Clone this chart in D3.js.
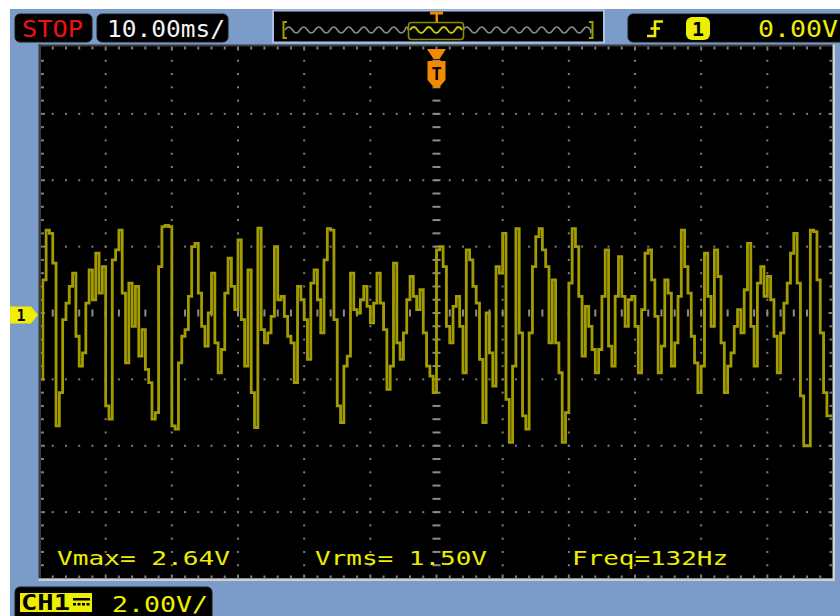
<!DOCTYPE html>
<html>
<head>
<meta charset="utf-8">
<script src="https://cdn.jsdelivr.net/npm/d3@7"></script>
<style>
  html, body { margin: 0; padding: 0; background: #fff; }
  svg { display: block; }
  text { font-family: "DejaVu Sans Mono", "Liberation Mono", monospace; }
</style>
</head>
<body>
<svg id="scope" width="840" height="616"></svg>
<script>
// Acquisition settings
const timePerDivMs = 10;
const voltsPerDiv = 2;
const horizontalDivs = 12;
const verticalDivs = 8;
const sampleStartMs = -60;
const sampleStepMs = 0.5;

// Channel 1 record (volts), one value per 0.5 ms sample
const ch1Volts = [
  -2.0, 1.0, 2.5, 2.4, 1.5, -3.4, -2.4, -0.2, 0.3, 0.8,
  1.2, -0.7, -1.6, -1.2, 0.3, 1.3, 0.4, 1.8, 0.6, 1.4,
  -2.8, -3.2, 1.6, 1.9, 2.5, 0.6, -1.5, 0.9, -0.4, 0.8,
  -1.3, -0.5, -1.7, -2.1, -3.2, -3.0, 1.4, 2.6, 2.64, 2.6,
  -3.4, -3.5,
  -1.5, -0.7, -0.5, 0.5, 2.0, 2.1, 0.6, -0.4, -1.0, 0.0,
  1.2, -0.9, -1.8, -1.1, 0.6, 1.65, 0.8, 0.1, 2.2, -0.2,
  -1.6, 1.3, -2.4, -3.45, 2.56, -0.5, -0.9, -0.6, -0.1, 2.0,
  0.4, 0.5, -0.1, -0.7, -0.9, -2.1, 0.8, 0.4, -0.2, -1.4,
  0.9, 1.3, 0.4, -0.6, 1.6, 2.54,
  2.5, -0.2, -2.8, -3.3, -1.6, -1.3, 1.2, 0.1, 0.0, 0.4,
  0.8, 0.2, -0.3, 0.3, 1.2, 0.3, -0.5, -2.3, -1.6, 1.5,
  -0.9, -1.4, -0.6, 0.4, 1.1, 0.5, 0.1, 0.7, -0.6, -1.6,
  -1.9, -2.4, 1.9, 2.0, 1.4, -0.4, -0.9, 0.2, 0.5, -0.4,
  -1.8,
  1.9, 1.6, 0.8, 0.3, -1.4, -3.3, 0.0, -1.2, -2.2, 1.4,
  1.2, 2.4, -2.6, -3.9, -1.6, 2.54, -0.6, -3.1, -3.5, -0.6,
  1.4, 2.3, 2.54, 1.9, 1.4, -0.9,
  1.0, -0.9, -1.8, -3.9, -3.0, 0.9, 2.54, 2.0, 0.5, -1.3,
  0.2, -0.4, -1.1, -1.8, -1.1, 0.5, 1.9, -1.0, -1.6, 0.5,
  1.7, 0.5, -0.4, 0.4, 0.5, -0.4, -1.8, 0.1, 1.8, 1.9,
  1.0, -0.1, -1.8, -1.0, 1.0, 0.6, -1.6, -0.9, 0.5, 2.5,
  1.4, 0.6, -0.7, -1.5, -2.4, -1.6, 1.8, 0.5, -0.4, 1.9,
  1.1, -0.9, -2.4, -1.6, -1.2, -0.4, 0.1, -0.6, 0.7, 2.1,
  -0.4, -1.6, 0.9, 1.4, 0.5, 1.1, 0.4, -0.7, -1.8, -0.6,
  0.3, 0.9, 1.8, 2.4, 0.9, -2.5, -4.0, -4.0, 2.5, 2.45,
  1.0, -0.6, -2.4, -3.1
];

// Status and measurement labels
const runState = "STOP";
const timebaseLabel = "10.00ms/";
const triggerLevelLabel = "0.00V";
const triggerSourceLabel = "1";
const channelName = "CH1";
const channelScaleLabel = "2.00V/";
const measurementLabels = ["Vmax= 2.64V", "Vrms= 1.50V", "Freq=132Hz"];

// ---------------------------------------------------------------
const svg = d3.select("#scope");
const W = 840, H = 616;

const screen = { left: 39.5, right: 833.5, top: 47.5, bottom: 578.5 };
const halfT = timePerDivMs * horizontalDivs / 2;
const halfV = voltsPerDiv * verticalDivs / 2;

const x = d3.scaleLinear().domain([-halfT, halfT]).range([screen.left, screen.right]);
const y = d3.scaleLinear().domain([-halfV, halfV]).range([screen.bottom, screen.top]);

const xMinor = d3.range(-halfT, halfT + 1e-9, timePerDivMs / 5);
const xMajor = d3.range(-halfT, halfT + 1e-9, timePerDivMs);
const yMinor = d3.range(-halfV, halfV + 1e-9, voltsPerDiv / 5);
const yMajor = d3.range(-halfV, halfV + 1e-9, voltsPerDiv);

// Backdrop
svg.append("rect").attr("width", W).attr("height", H).attr("fill", "#7b9bc9");
svg.append("rect").attr("width", W).attr("height", 9).attr("fill", "#ffffff");
svg.append("rect").attr("width", 10).attr("height", H).attr("fill", "#ffffff");

// Graticule area
svg.append("rect")
  .attr("x", screen.left).attr("y", screen.top - 2.5)
  .attr("width", screen.right - screen.left).attr("height", screen.bottom - screen.top + 2.5)
  .attr("fill", "#000");

// Frame edges (dark top/left, light bottom/right)
svg.append("rect").attr("x", screen.left - 1).attr("y", screen.top - 3).attr("width", screen.right - screen.left + 1).attr("height", 2).attr("fill", "#3a3a3a");
svg.append("rect").attr("x", screen.left - 1).attr("y", screen.top - 3).attr("width", 2.5).attr("height", screen.bottom - screen.top + 3).attr("fill", "#3a3a3a");
svg.append("rect").attr("x", screen.left - 1).attr("y", screen.bottom).attr("width", screen.right - screen.left + 2).attr("height", 2.5).attr("fill", "#d0d0d0");
svg.append("rect").attr("x", screen.right - 1).attr("y", screen.top - 3).attr("width", 2.5).attr("height", screen.bottom - screen.top + 5).attr("fill", "#d0d0d0");

const grid = svg.append("g").attr("fill", "#7d7d7d");

// Ruler ticks along the edges
const isMajorX = t => Math.abs(t / timePerDivMs - Math.round(t / timePerDivMs)) < 1e-6;
const isMajorY = v => Math.abs(v / voltsPerDiv - Math.round(v / voltsPerDiv)) < 1e-6;
const innerX = xMinor.filter(t => Math.abs(t) < halfT - 1e-6);
const innerY = yMinor.filter(v => Math.abs(v) < halfV - 1e-6);

grid.selectAll(".tickTop").data(innerX).join("rect")
  .attr("x", d => x(d) - 1).attr("y", screen.top - 1)
  .attr("width", 2).attr("height", d => isMajorX(d) ? 4 : 3);
grid.selectAll(".tickBottom").data(innerX).join("rect")
  .attr("x", d => x(d) - 1).attr("y", d => screen.bottom - (isMajorX(d) ? 4 : 3))
  .attr("width", 2).attr("height", d => isMajorX(d) ? 4 : 3);
grid.selectAll(".tickLeft").data(innerY).join("rect")
  .attr("x", screen.left + 1.5).attr("y", d => y(d) - 1)
  .attr("width", d => isMajorY(d) ? 4 : 3).attr("height", 2);
grid.selectAll(".tickRight").data(innerY).join("rect")
  .attr("x", d => screen.right - 1 - (isMajorY(d) ? 4 : 3)).attr("y", d => y(d) - 1)
  .attr("width", d => isMajorY(d) ? 4 : 3).attr("height", 2);

// Dotted division lines
const vLines = xMajor.filter(t => Math.abs(t) > 1e-6 && Math.abs(t) < halfT - 1e-6);
const hLines = yMajor.filter(v => Math.abs(v) > 1e-6 && Math.abs(v) < halfV - 1e-6);
vLines.forEach(t => {
  grid.append("g").selectAll("rect").data(innerY).join("rect")
    .attr("x", x(t) - 1).attr("y", d => y(d) - 1).attr("width", 2).attr("height", 2);
});
hLines.forEach(v => {
  grid.append("g").selectAll("rect").data(innerX).join("rect")
    .attr("x", d => x(d) - 1).attr("y", y(v) - 1).attr("width", 2).attr("height", 2);
});

// Centre axes with dash ticks
grid.append("g").attr("fill", "#8c8c8c").selectAll("rect").data(innerY).join("rect")
  .attr("x", x(0) - 4).attr("y", d => y(d) - 1).attr("width", 8).attr("height", 2);
grid.append("g").attr("fill", "#8c8c8c").selectAll("rect").data(innerX).join("rect")
  .attr("x", d => x(d) - 1).attr("y", y(0) - 3.5).attr("width", 2).attr("height", 7);

// Channel 1 trace
const samples = ch1Volts.map((v, i) => ({ t: sampleStartMs + i * sampleStepMs, v }));
const trace = d3.line()
  .x(d => x(d.t)).y(d => y(d.v))
  .curve(d3.curveStepAfter);
svg.append("defs").append("clipPath").attr("id", "screenClip")
  .append("rect").attr("x", screen.left + 2).attr("y", screen.top)
  .attr("width", screen.right - screen.left - 3).attr("height", screen.bottom - screen.top);
svg.append("path")
  .datum(samples.concat([{ t: halfT, v: ch1Volts[ch1Volts.length - 1] }]))
  .attr("d", trace)
  .attr("clip-path", "url(#screenClip)")
  .attr("fill", "none")
  .attr("stroke", "#a39c00")
  .attr("stroke-width", 2.8)
  .attr("stroke-linejoin", "miter");

// Measurements
const measX = [57, 315, 572];
const measW = [173, 172, 156];
svg.append("g").selectAll("text").data(measurementLabels).join("text")
  .attr("x", (d, i) => measX[i]).attr("y", 565)
  .attr("font-size", 20)
  .attr("fill", "#eeee00")
  .attr("textLength", (d, i) => measW[i])
  .attr("lengthAdjust", "spacingAndGlyphs")
  .text(d => d);

// Trigger position marker on the screen
const orange = "#f28a00";
const tx = x(0);
svg.append("polygon")
  .attr("points", [[tx - 9.5, 49], [tx + 9.5, 49], [tx + 3, 59], [tx - 3, 59]].map(p => p.join(",")).join(" "))
  .attr("fill", orange);
svg.append("polygon")
  .attr("points", [[tx - 9, 61], [tx + 9, 61], [tx + 9, 80], [tx + 2, 88], [tx - 2, 88], [tx - 9, 80]].map(p => p.join(",")).join(" "))
  .attr("fill", orange);
svg.append("text").attr("x", tx).attr("y", 80).attr("text-anchor", "middle")
  .attr("font-size", 17).attr("font-weight", "bold").attr("fill", "#000").text("T");

// Channel ground marker
const gy = y(0) + 2;
svg.append("polygon")
  .attr("points", [[10, gy - 8.5], [31, gy - 8.5], [38, gy], [31, gy + 8.5], [10, gy + 8.5]].map(p => p.join(",")).join(" "))
  .attr("fill", "#f2ee00");
svg.append("text").attr("x", 21).attr("y", gy + 5.5).attr("text-anchor", "middle")
  .attr("font-size", 15).attr("font-weight", "bold").attr("fill", "#000").text(triggerSourceLabel);

// ---- Top status bar ----
function pill(x0, y0, w, h) {
  svg.append("rect").attr("x", x0).attr("y", y0).attr("width", w).attr("height", h)
    .attr("rx", 5).attr("fill", "#000").attr("stroke", "#1a1a1a").attr("stroke-width", 1);
}
pill(15, 14, 77, 28);
svg.append("text").attr("x", 22).attr("y", 37).attr("font-size", 23)
  .attr("fill", "#f01010").attr("textLength", 61).attr("lengthAdjust", "spacingAndGlyphs").text(runState);

pill(97, 14, 131, 28);
svg.append("text").attr("x", 107).attr("y", 37).attr("font-size", 23)
  .attr("fill", "#f4f4f4").attr("textLength", 118).attr("lengthAdjust", "spacingAndGlyphs").text(timebaseLabel);

// Record overview
svg.append("rect").attr("x", 273).attr("y", 10.5).attr("width", 331).attr("height", 32)
  .attr("fill", "#000").attr("stroke", "#a9bfe3").attr("stroke-width", 2);
function squiggle(x0, x1, yc, period, amp) {
  const half = period / 2;
  let p = `M${x0},${yc}`;
  let dir = -1;
  for (let xx = x0; xx < x1 - 0.01; xx += half) {
    const step = Math.min(half, x1 - xx);
    p += ` q${step / 2},${dir * amp * 2} ${step},0`;
    dir = -dir;
  }
  return p;
}
svg.append("path").attr("d", squiggle(285, 408, 30, 15, 3))
  .attr("fill", "none").attr("stroke", "#8c8c8c").attr("stroke-width", 1.6);
svg.append("path").attr("d", squiggle(463, 591, 30, 15, 3))
  .attr("fill", "none").attr("stroke", "#8c8c8c").attr("stroke-width", 1.6);
svg.append("rect").attr("x", 408.5).attr("y", 22.5).attr("width", 55).attr("height", 17)
  .attr("rx", 3).attr("fill", "#000").attr("stroke", "#8f8a00").attr("stroke-width", 1.6);
svg.append("path").attr("d", squiggle(410, 462, 30, 15, 3))
  .attr("fill", "none").attr("stroke", "#c6cc00").attr("stroke-width", 1.8);
svg.append("path").attr("d", "M287,22 H283.5 V38 H287").attr("fill", "none").attr("stroke", "#a39c00").attr("stroke-width", 2);
svg.append("path").attr("d", "M589,22 H592.5 V38 H589").attr("fill", "none").attr("stroke", "#a39c00").attr("stroke-width", 2);
svg.append("rect").attr("x", 430).attr("y", 11.5).attr("width", 13).attr("height", 3).attr("fill", orange);
svg.append("rect").attr("x", 435.5).attr("y", 14).attr("width", 2.5).attr("height", 8).attr("fill", orange);

// Trigger settings
pill(628, 14, 220, 28);
svg.append("path").attr("d", "M647,36 H655 V21.5 H663 M650.5,28.5 H660")
  .attr("fill", "none").attr("stroke", "#eeee00").attr("stroke-width", 2.6);
svg.append("rect").attr("x", 686).attr("y", 17).attr("width", 24).attr("height", 23).attr("rx", 6).attr("fill", "#eeee00");
svg.append("text").attr("x", 698).attr("y", 35.5).attr("text-anchor", "middle").attr("font-size", 20)
  .attr("font-weight", "bold").attr("fill", "#000").text(triggerSourceLabel);
svg.append("text").attr("x", 758).attr("y", 37).attr("font-size", 23)
  .attr("fill", "#eeee00").attr("textLength", 80).attr("lengthAdjust", "spacingAndGlyphs").text(triggerLevelLabel);

// ---- Bottom channel bar ----
pill(15, 587, 197, 34);
svg.append("rect").attr("x", 20).attr("y", 593).attr("width", 72).attr("height", 19).attr("fill", "#eeee00");
svg.append("text").attr("x", 21).attr("y", 610).attr("font-size", 21).attr("font-weight", "bold")
  .attr("fill", "#000").attr("textLength", 49).attr("lengthAdjust", "spacingAndGlyphs").text(channelName);
svg.append("rect").attr("x", 73).attr("y", 598).attr("width", 17).attr("height", 2.5).attr("fill", "#000");
svg.append("g").selectAll("rect").data([73, 77.5, 82, 86.5]).join("rect")
  .attr("x", d => d).attr("y", 603).attr("width", 3).attr("height", 2.5).attr("fill", "#000");
svg.append("text").attr("x", 112).attr("y", 612).attr("font-size", 22)
  .attr("fill", "#eeee00").attr("textLength", 96).attr("lengthAdjust", "spacingAndGlyphs").text(channelScaleLabel);
</script>
</body>
</html>
